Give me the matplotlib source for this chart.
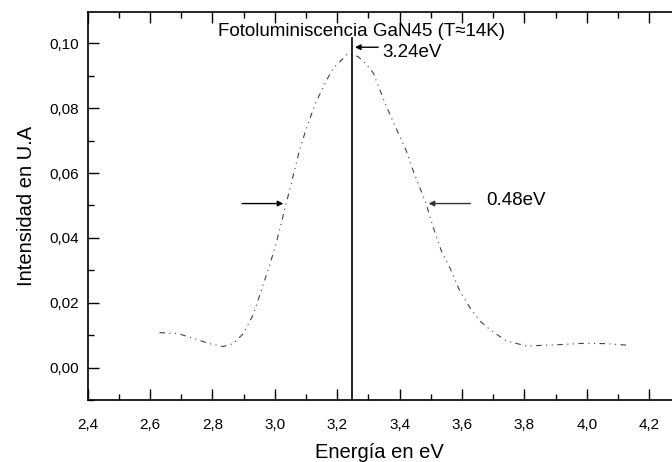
import numpy as np
import matplotlib.pyplot as plt
from matplotlib.ticker import MultipleLocator, FuncFormatter

plt.rcParams['font.family'] = ['Liberation Sans', 'DejaVu Sans']

# espectro de fotoluminiscencia GaN45
energia = [2.63, 2.69, 2.75, 2.79, 2.834, 2.866, 2.899, 2.931, 2.963, 2.984,
           3.006, 3.022, 3.036, 3.054, 3.070, 3.078, 3.10, 3.13, 3.166, 3.187,
           3.209, 3.235, 3.267, 3.294, 3.316, 3.326, 3.36, 3.39, 3.422, 3.444,
           3.465, 3.484, 3.508, 3.534, 3.561, 3.593, 3.625, 3.657, 3.695, 3.743,
           3.807, 3.892, 3.988, 4.063, 4.133]
intensidad = [0.0108, 0.0105, 0.0087, 0.0074, 0.0065, 0.0074, 0.0105, 0.0164, 0.0257, 0.0318,
              0.0390, 0.0451, 0.0505, 0.0574, 0.0636, 0.0667, 0.0735, 0.0815, 0.0887, 0.0923,
              0.0944, 0.0969, 0.0959, 0.0934, 0.0908, 0.0882, 0.0800, 0.0735, 0.0667, 0.0605,
              0.0554, 0.0508, 0.0431, 0.0359, 0.0308, 0.0236, 0.0185, 0.0144, 0.0113, 0.0082,
              0.0067, 0.0070, 0.0075, 0.0074, 0.0069]

e_pico = 3.248
fwhm_izq = 3.036
fwhm_der = 3.484
y_fwhm = 0.0506

fig = plt.figure(figsize=(6.72, 4.62), dpi=100)
ax = fig.add_axes([0.1305, 0.134, 0.8695, 0.841])

ax.plot(energia, intensidad, color='#444444', lw=0.8, ls=(0, (5, 4, 1, 4, 1, 4)))
ax.plot([e_pico, e_pico], [-0.01, 0.1015], color='black', lw=1.2)

ax.set_xlim(2.4, 4.273)
ax.set_ylim(-0.01, 0.1098)

ax.xaxis.set_major_locator(MultipleLocator(0.2))
ax.xaxis.set_minor_locator(MultipleLocator(0.1))
ax.yaxis.set_major_locator(MultipleLocator(0.02))
ax.yaxis.set_minor_locator(MultipleLocator(0.01))
ax.xaxis.set_major_formatter(FuncFormatter(lambda v, p: f"{v:.1f}".replace('.', ',')))
ax.yaxis.set_major_formatter(FuncFormatter(lambda v, p: f"{v:.2f}".replace('.', ',')))

ax.tick_params(which='both', direction='in', top=True, right=False, labelsize=11)
ax.tick_params(which='major', length=8, width=1)
ax.tick_params(which='minor', length=4, width=1)
ax.tick_params(axis='x', pad=13)
ax.tick_params(axis='y', pad=6)
ax.spines['right'].set_visible(False)
for s in ['left', 'bottom', 'top']:
    ax.spines[s].set_linewidth(1.2)

ax.set_xlabel('Energía en eV', fontsize=14.5, labelpad=8)
ax.set_ylabel('Intensidad en U.A', fontsize=14.5, labelpad=10)

ax.text(3.279, 0.1036, 'Fotoluminiscencia GaN45 (T≈14K)', fontsize=13.5,
        ha='center', va='center')

# flecha del pico
ax.annotate('', xy=(e_pico, 0.0988), xytext=(3.34, 0.0988),
            arrowprops=dict(arrowstyle='-|>', color='black', lw=1, mutation_scale=8))
ax.text(3.345, 0.0972, '3.24eV', fontsize=13.5, ha='left', va='center')

# flechas del ancho a media altura
ax.annotate('', xy=(fwhm_izq, y_fwhm), xytext=(2.886, y_fwhm),
            arrowprops=dict(arrowstyle='-|>', color='black', lw=1, mutation_scale=8))
ax.annotate('', xy=(fwhm_der, y_fwhm), xytext=(3.636, y_fwhm),
            arrowprops=dict(arrowstyle='-|>', color='#333333', lw=1, mutation_scale=8))
ax.text(3.677, 0.0516, '0.48eV', fontsize=13.5, ha='left', va='center')

fig.savefig('out.png', dpi=100)
